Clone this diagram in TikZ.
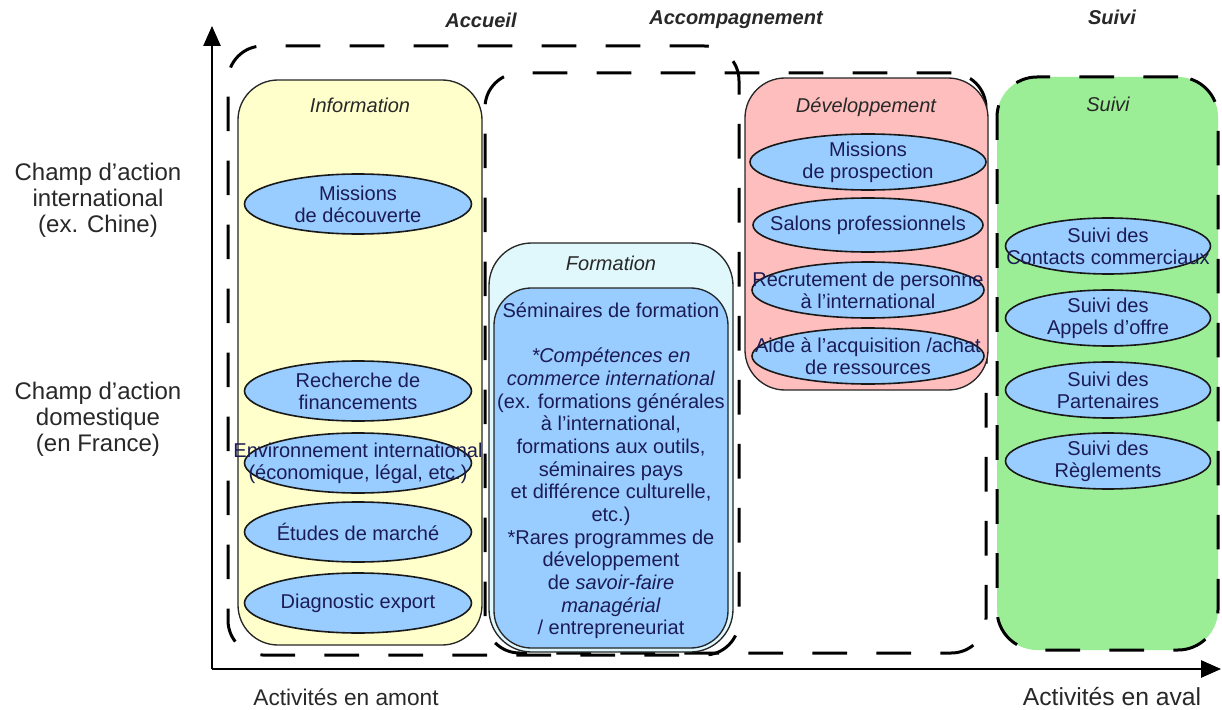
\documentclass[tikz,border=0pt]{standalone}
\usepackage{fontspec}
\setmainfont{Liberation Sans}
\usetikzlibrary{arrows.meta,shapes.geometric}
\newlength\pxu \setlength\pxu{0.75pt}
\definecolor{infoY}{RGB}{255,255,204}
\definecolor{formC}{RGB}{224,248,252}
\definecolor{blueF}{RGB}{153,204,255}
\definecolor{pinkD}{RGB}{255,190,190}
\definecolor{greenS}{RGB}{155,238,150}
\definecolor{navy}{RGB}{28,28,85}
\definecolor{darkT}{RGB}{40,40,40}
\begin{document}
\begin{tikzpicture}[x=0.75pt,y=-0.75pt,
  dashbox/.style={rectangle, draw=black, line width=2.25pt, dash pattern=on 26pt off 22pt, rounded corners=26pt, inner sep=0pt},
  solidbox/.style={rectangle, draw=black!85, line width=1pt, rounded corners=30pt, inner sep=0pt},
  ell/.style={ellipse, draw=black!90, line width=1.2pt, fill=blueF, inner sep=0pt},
  etext/.style={text=navy, align=center, font=\fontsize{15}{16.5}\selectfont, inner sep=0pt},
  btitle/.style={text=darkT, font=\fontsize{15}{17}\selectfont\itshape, inner sep=0pt},
  toptitle/.style={text=darkT, font=\fontsize{15}{17}\selectfont\bfseries\itshape, inner sep=0pt},
  sidelab/.style={text=darkT, align=center, font=\fontsize{18}{19.5}\selectfont, inner sep=0pt},
  axislab/.style={text=darkT, font=\fontsize{17}{19}\selectfont, inner sep=0pt},
  axisline/.style={line width=1.1pt, -{Triangle[length=15pt,width=13pt]}},
]
\useasboundingbox (0,0) rectangle (1222,710);

% dashed groupings
\node[dashbox, minimum width=511\pxu, minimum height=609\pxu] (accueil) at (483.5,350.5) {};
\node[dashbox, minimum width=501\pxu, minimum height=580\pxu] (accomp) at (735.5,363) {};

% boxes
\node[solidbox, fill=infoY, minimum width=244\pxu, minimum height=565\pxu] (info) at (360,362.5) {};
\node[solidbox, fill=formC, minimum width=244\pxu, minimum height=409\pxu, rounded corners=32pt] (form) at (611,447.5) {};
\node[solidbox, fill=blueF, minimum width=234\pxu, minimum height=360\pxu, rounded corners=28pt] (semi) at (611,468) {};
\node[solidbox, fill=pinkD, minimum width=243\pxu, minimum height=312\pxu] (dev) at (866.5,234) {};
\node[dashbox, fill=greenS, minimum width=221\pxu, minimum height=573\pxu, rounded corners=30pt] (suivi) at (1107.5,363.5) {};

% box titles
\node[btitle] (infoT) at (360,105) {Information};
\node[btitle] (formT) at (611,263) {Formation};
\node[btitle] (devT) at (866,107) {Développement};
\node[btitle] (suiviT) at (1108,104) {Suivi};

% Information ellipses
\node[ell, minimum width=227\pxu, minimum height=60\pxu] (i1) at (358,204) {};
\node[etext] (i1t) at (i1) {Missions\\de découverte};
\node[ell, minimum width=227\pxu, minimum height=60\pxu] (i2) at (358,391) {};
\node[etext] (i2t) at (i2) {Recherche de\\financements};
\node[ell, minimum width=227\pxu, minimum height=60\pxu] (i3) at (358,463) {};
\node[etext] (i3t) at (i3) {Environnement international\\(économique, légal, etc.)};
\node[ell, minimum width=227\pxu, minimum height=60\pxu] (i4) at (358,532) {};
\node[etext] (i4t) at (i4) {Études de marché};
\node[ell, minimum width=227\pxu, minimum height=60\pxu] (i5) at (358,603) {};
\node[etext] (i5t) at (i5) {Diagnostic export};

% Formation text
\node[etext, font=\fontsize{15}{17}\selectfont] (semiT) at (611,471) {Séminaires de formation\\[17pt]
\textit{*Compétences en}\\
\textit{commerce international}\\
(ex. formations générales\\
à l'international,\\
formations aux outils,\\
séminaires pays\\
et différence culturelle,\\
etc.)\\
*Rares programmes de\\
développement\\
de \textit{savoir-faire}\\
\textit{managérial}\\
/ entrepreneuriat};

% Développement ellipses
\node[ell, minimum width=236\pxu, minimum height=56\pxu] (d1) at (868,162) {};
\node[etext] (d1t) at (d1) {Missions\\de prospection};
\node[ell, minimum width=230\pxu, minimum height=54\pxu] (d2) at (868,225) {};
\node[etext] (d2t) at (d2) {Salons professionnels};
\node[ell, minimum width=232\pxu, minimum height=56\pxu] (d3) at (868,290) {};
\node[etext] (d3t) at (d3) {Recrutement de personne\\à l'international};
\node[ell, minimum width=232\pxu, minimum height=56\pxu] (d4) at (868,356) {};
\node[etext] (d4t) at (d4) {Aide à l'acquisition /achat\\de ressources};

% Suivi ellipses
\node[ell, minimum width=205\pxu, minimum height=56\pxu] (s1) at (1108,246) {};
\node[etext] (s1t) at (s1) {Suivi des\\Contacts commerciaux};
\node[ell, minimum width=205\pxu, minimum height=56\pxu] (s2) at (1108,318) {};
\node[etext] (s2t) at (s2) {Suivi des\\Appels d'offre};
\node[ell, minimum width=205\pxu, minimum height=56\pxu] (s3) at (1108,390) {};
\node[etext] (s3t) at (s3) {Suivi des\\Partenaires};
\node[ell, minimum width=205\pxu, minimum height=56\pxu] (s4) at (1108,461) {};
\node[etext] (s4t) at (s4) {Suivi des\\Règlements};

% top titles
\node[toptitle] (tAcc) at (481,20) {Accueil};
\node[toptitle] (tAccomp) at (736,20) {Accompagnement};
\node[toptitle] (tSuivi) at (1112,17) {Suivi};

% axes
\coordinate (O) at (212,669);
\coordinate (ytip) at (212,26);
\coordinate (xtip) at (1221,669);
\draw[axisline] (O) -- (ytip);
\draw[axisline] (O) -- (xtip);

% side labels
\node[sidelab] (lInt) at (98,200) {Champ d'action\\international\\(ex. Chine)};
\node[sidelab] (lDom) at (98,419) {Champ d'action\\domestique\\(en France)};
\node[axislab] (lAmont) at (346,697) {Activités en amont};
\node[axislab, font=\fontsize{18.5}{20}\selectfont] (lAval) at (1112,697) {Activités en aval};
\end{tikzpicture}
\end{document}
